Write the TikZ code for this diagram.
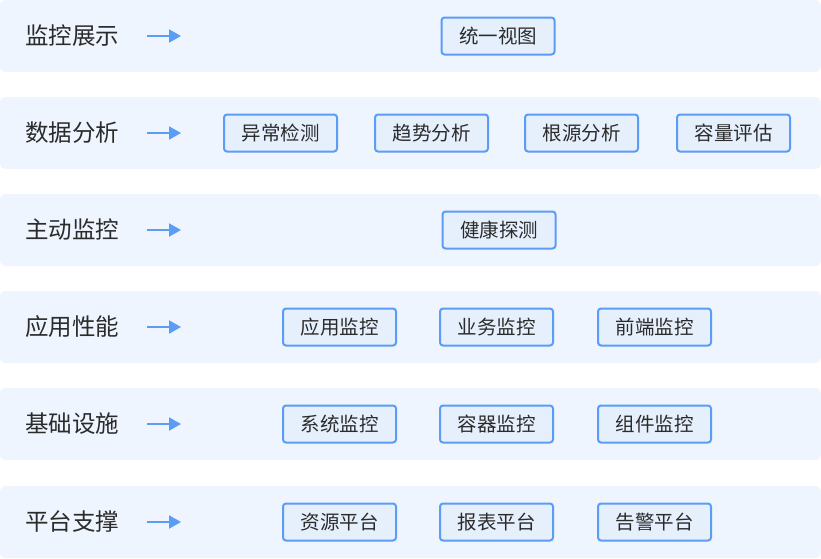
\documentclass[tikz,border=0pt]{standalone}
\usepackage{fontspec}
\setmainfont{Noto Sans CJK SC}
\usetikzlibrary{arrows.meta}
\definecolor{bandbg}{HTML}{EEF5FE}
\definecolor{boxbg}{HTML}{E6F0FD}
\definecolor{boxline}{HTML}{5B9CF5}
\definecolor{txt}{HTML}{2B2B2B}

\begin{document}
\begin{tikzpicture}[x=1pt, y=-1pt,
    band/.style={fill=bandbg, rounded corners=5pt},
    layer/.style={anchor=west, inner sep=0pt, text=txt, font=\fontsize{23.5}{23.5}\selectfont},
    item/.style={draw=boxline, line width=2pt, fill=boxbg, rounded corners=3pt,
        minimum width=113pt, minimum height=37pt, inner sep=0pt,
        text=txt, font=\fontsize{19.5}{19.5}\selectfont},
    flow/.style={draw=boxline, line width=2pt, -{Triangle[length=12pt, width=13pt]}}]
    \useasboundingbox (0,0) rectangle (821,558);
%%   bands
    \fill[band] (0,0) rectangle (821,72);
    \fill[band] (0,97) rectangle (821,169);
    \fill[band] (0,194) rectangle (821,266);
    \fill[band] (0,291) rectangle (821,363);
    \fill[band] (0,388) rectangle (821,460);
    \fill[band] (0,486) rectangle (821,558);
%%   kw   (name)   (x, y)   {text}
    \node[layer] (show) at (25, 36) {监控展示};
    \node[layer] (data) at (25, 133) {数据分析};
    \node[layer] (probe) at (25, 230) {主动监控};
    \node[layer] (app) at (25, 327) {应用性能};
    \node[layer] (infra) at (25, 424) {基础设施};
    \node[layer] (base) at (25, 522) {平台支撑};
%%   arrows
    \coordinate (s1) at (147, 36);   \coordinate (e1) at (181, 36);
    \coordinate (s2) at (147, 133);  \coordinate (e2) at (181, 133);
    \coordinate (s3) at (147, 230);  \coordinate (e3) at (181, 230);
    \coordinate (s4) at (147, 327);  \coordinate (e4) at (181, 327);
    \coordinate (s5) at (147, 424);  \coordinate (e5) at (181, 424);
    \coordinate (s6) at (147, 522);  \coordinate (e6) at (181, 522);
    \draw[flow] (s1) -- (e1);
    \draw[flow] (s2) -- (e2);
    \draw[flow] (s3) -- (e3);
    \draw[flow] (s4) -- (e4);
    \draw[flow] (s5) -- (e5);
    \draw[flow] (s6) -- (e6);
%%   boxes
    \node[item] (view) at (498, 36) {统一视图};

    \node[item] (anomaly) at (280.5, 133) {异常检测};
    \node[item] (trend) at (431.5, 133) {趋势分析};
    \node[item] (root) at (581.5, 133) {根源分析};
    \node[item] (capacity) at (733.5, 133) {容量评估};

    \node[item] (health) at (499, 230) {健康探测};

    \node[item] (appmon) at (339.5, 327) {应用监控};
    \node[item] (bizmon) at (496.5, 327) {业务监控};
    \node[item] (webmon) at (654.5, 327) {前端监控};

    \node[item] (sysmon) at (339.5, 424) {系统监控};
    \node[item] (ctrmon) at (496.5, 424) {容器监控};
    \node[item] (cmpmon) at (654.5, 424) {组件监控};

    \node[item] (res) at (339.5, 522) {资源平台};
    \node[item] (report) at (496.5, 522) {报表平台};
    \node[item] (alarm) at (654.5, 522) {告警平台};
\end{tikzpicture}
\end{document}
